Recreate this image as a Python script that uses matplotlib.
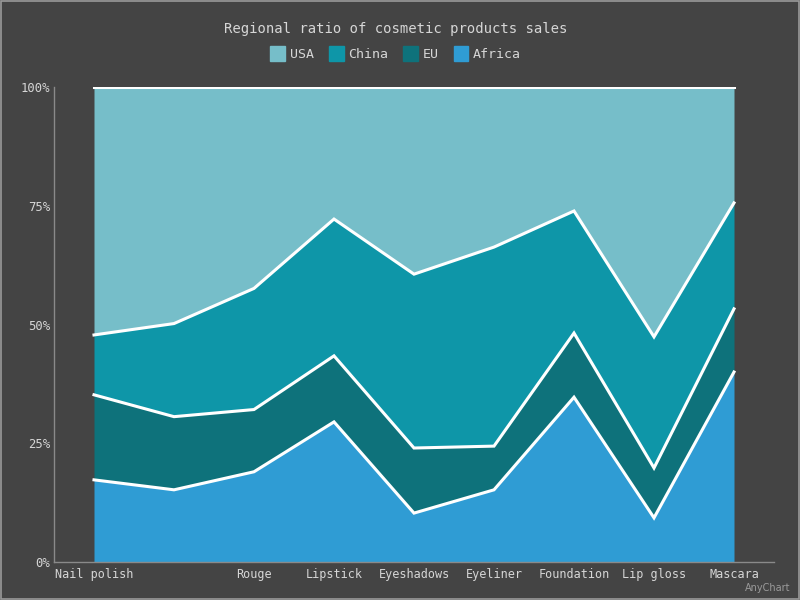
import numpy as np
import matplotlib.pyplot as plt

# categories and regional shares (%)
categories = ["Nail polish", "Eyebrow pencil", "Rouge", "Lipstick", "Eyeshadows",
              "Eyeliner", "Foundation", "Lip gloss", "Mascara"]
africa = [17.3, 15.2, 19.0, 29.5, 10.3, 15.2, 34.7, 9.3, 40.0]
eu     = [17.9, 15.4, 13.1, 13.9, 13.7, 9.2, 13.5, 10.5, 13.3]
china  = [12.6, 19.6, 25.5, 28.8, 36.6, 41.9, 25.7, 27.6, 22.3]
usa    = [52.2, 49.8, 42.4, 27.8, 39.4, 33.7, 26.1, 52.6, 24.4]

BG = "#444444"
TXT = "#d6d6d6"
COLORS = {"USA": "#76bec9", "China": "#0e96a8", "EU": "#0e727b", "Africa": "#2f9cd4"}

plt.rcParams["font.family"] = ["DejaVu Sans Mono", "DejaVu Sans"]

fig = plt.figure(figsize=(8, 6), dpi=100, facecolor=BG)
ax = fig.add_axes([0.0675, 0.0633, 0.9, 0.7917])
ax.set_facecolor(BG)

x = np.arange(len(categories))
# bottom-to-top stacking: Africa, EU, China, USA; normalised to 100%
stack = np.array([africa, eu, china, usa], dtype=float)
stack = stack / stack.sum(axis=0) * 100
cum = np.cumsum(stack, axis=0)
names = ["Africa", "EU", "China", "USA"]
lower = np.zeros(len(x))
for name, top in zip(names, cum):
    ax.fill_between(x, lower, top, color=COLORS[name], linewidth=0, zorder=1)
    ax.plot(x, top, color="white", lw=2.2, solid_joinstyle="miter", zorder=3)
    lower = top

ax.set_xlim(-0.5, len(categories) - 0.5)
ax.set_ylim(0, 100)
ax.set_yticks([0, 25, 50, 75, 100])
ax.set_yticklabels(["0%", "25%", "50%", "75%", "100%"])
ax.set_xticks(x)
labels = ax.set_xticklabels(categories)
labels[1].set_visible(False)  # hidden by overlap in the reference
ax.tick_params(colors=TXT, labelsize=8.5, length=0, pad=4)
ax.tick_params(axis="y", pad=3, labelsize=8.8)
for s in ["top", "right"]:
    ax.spines[s].set_visible(False)
for s in ["left", "bottom"]:
    ax.spines[s].set_color("#8a8a8a")
    ax.spines[s].set_linewidth(1)

fig.text(0.494, 0.952, "Regional ratio of cosmetic products sales",
         ha="center", va="center", color=TXT, fontsize=10)

# legend row
legend_order = ["USA", "China", "EU", "Africa"]
lx = [0.338, 0.411, 0.504, 0.567]
for name, px in zip(legend_order, lx):
    fig.patches.append(plt.Rectangle((px, 0.898), 0.0185, 0.025, color=COLORS[name],
                                     transform=fig.transFigure, figure=fig))
    fig.text(px + 0.024, 0.910, name, ha="left", va="center", color=TXT, fontsize=9.5)

fig.text(0.988, 0.020, "AnyChart", ha="right", va="center", color="#9a9a9a",
         fontsize=7, family="DejaVu Sans")

fig.patches.append(plt.Rectangle((0.001, 0.001), 0.998, 0.998, fill=False,
                                 edgecolor="#9a9a9a", lw=1.2,
                                 transform=fig.transFigure, figure=fig))

fig.savefig("out.png", dpi=100, facecolor=BG)
